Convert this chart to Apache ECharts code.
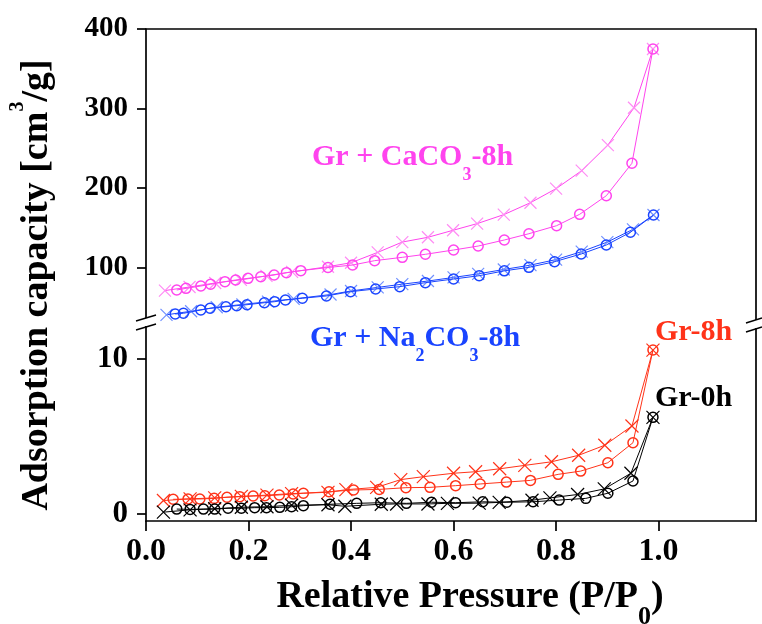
<!DOCTYPE html>
<html><head><meta charset="utf-8">
<script src="https://cdn.jsdelivr.net/npm/echarts@6/dist/echarts.min.js"></script>
<style>html,body{margin:0;padding:0;background:#fff}#c{width:762px;height:624px}</style>
</head><body><div id="c"></div>
<script>
// ---------------- data ----------------
const xTicks = [0, 0.2, 0.4, 0.6, 0.8, 1.0];
const upperTicks = [100, 200, 300, 400];
const lowerTicks = [0, 10];

// Gr + CaCO3-8h
const caAdsP = [0.060,0.078,0.107,0.126,0.154,0.175,0.199,0.224,0.250,0.274,0.302,0.355,0.403,0.446,0.500,0.545,0.600,0.648,0.699,0.747,0.801,0.846,0.898,0.948,0.989];
const caAdsV = [71.7,73.8,76.7,78.9,82.2,84.3,86.4,88.4,90.6,93.5,96.0,100.0,103.1,108.6,112.8,116.6,122.0,127.0,134.6,142.5,152.6,166.9,190.3,231.1,374.8];
const caDesP = [0.037,0.085,0.135,0.185,0.235,0.285,0.355,0.400,0.452,0.500,0.550,0.599,0.646,0.698,0.750,0.800,0.850,0.901,0.952,0.989];
const caDesV = [71.0,75.5,80.5,84.5,89.5,94.5,101.0,106.0,119.0,132.0,138.0,146.8,155.2,166.5,181.5,199.2,221.8,254.0,301.0,374.8];
// Gr + Na2CO3-8h
const naAdsP = [0.057,0.073,0.107,0.125,0.156,0.177,0.197,0.231,0.251,0.272,0.305,0.352,0.399,0.448,0.495,0.545,0.600,0.650,0.699,0.747,0.797,0.849,0.898,0.945,0.990];
const naAdsV = [41.5,42.4,46.5,48.7,50.7,52.0,53.2,55.7,57.0,59.1,61.3,64.2,69.6,73.0,75.9,80.9,85.5,89.7,95.8,100.2,107.3,117.0,128.3,144.3,166.0];
const naDesP = [0.040,0.088,0.138,0.188,0.238,0.288,0.360,0.400,0.452,0.500,0.550,0.600,0.648,0.698,0.750,0.800,0.850,0.900,0.950,0.990];
const naDesV = [40.5,45.0,50.0,53.5,57.0,60.5,66.0,70.5,75.0,79.0,83.0,87.5,92.0,97.5,103.0,110.0,120.0,132.0,148.0,166.0];
// Gr-8h
const g8AdsP = [0.053,0.082,0.105,0.133,0.158,0.183,0.209,0.232,0.260,0.287,0.307,0.357,0.405,0.455,0.507,0.554,0.604,0.652,0.703,0.750,0.804,0.848,0.901,0.950,0.989];
const g8AdsV = [0.93,0.95,0.95,0.99,1.06,1.10,1.14,1.16,1.21,1.27,1.32,1.42,1.53,1.57,1.68,1.70,1.81,1.92,2.04,2.15,2.54,2.75,3.29,4.58,10.56];
const g8DesP = [0.034,0.086,0.134,0.186,0.236,0.284,0.355,0.390,0.450,0.497,0.541,0.600,0.643,0.690,0.739,0.791,0.844,0.895,0.948,0.989];
const g8DesV = [0.85,0.96,1.02,1.12,1.20,1.30,1.38,1.55,1.70,2.20,2.39,2.61,2.71,2.90,3.12,3.35,3.77,4.42,5.66,10.56];
// Gr-0h
const g0AdsP = [0.060,0.086,0.112,0.134,0.160,0.186,0.212,0.235,0.261,0.284,0.307,0.359,0.411,0.458,0.508,0.557,0.604,0.657,0.704,0.755,0.806,0.858,0.901,0.950,0.989];
const g0AdsV = [0.30,0.28,0.30,0.30,0.35,0.35,0.39,0.39,0.41,0.45,0.52,0.61,0.67,0.71,0.67,0.74,0.71,0.77,0.74,0.77,0.88,0.99,1.32,2.11,6.22];
const g0DesP = [0.034,0.086,0.134,0.186,0.236,0.284,0.355,0.388,0.459,0.489,0.550,0.588,0.650,0.689,0.753,0.788,0.842,0.894,0.946,0.989];
const g0DesV = [0.10,0.25,0.32,0.42,0.45,0.55,0.58,0.48,0.61,0.63,0.63,0.67,0.68,0.73,0.87,1.02,1.24,1.60,2.61,6.22];

// ---------------- layout / style ----------------
const FONT = 'Liberation Serif';
const L = 146, R = 6, TOP = 29, BRK = 322, BOT = 103;
const XMAX = 1.19, UMIN = 31.45, UMAX = 400, LMIN = -0.47, LMAX = 12.37;
const AXC = '#000', AXW = 1.7;
const MAG = '#ff44ee', MAG2 = '#ff8cf4', BLU = '#1a44ff', BLU2 = '#7090ff', RED = '#ff3319', BLK = '#000';
const CROSS = 'path://M0,0L10,10M10,0L0,10';

function pts(P, V) { return P.map((p, i) => [p, V[i]]); }
function circ(P, V, c, xi, yi) {
  return { type: 'line', xAxisIndex: xi, yAxisIndex: yi, data: pts(P, V), symbol: 'circle', symbolSize: 10,
    itemStyle: { color: 'rgba(0,0,0,0)', borderColor: c, borderWidth: 1.5 },
    lineStyle: { color: c, width: 1 }, silent: true, z: 3 };
}
function cross(P, V, c, lc, sz, xi, yi) {
  return { type: 'line', xAxisIndex: xi, yAxisIndex: yi, data: pts(P, V), symbol: CROSS, symbolSize: sz,
    itemStyle: { color: 'none', borderColor: c, borderWidth: 1.2 },
    lineStyle: { color: lc, width: 1 }, silent: true, z: 2 };
}
const lbl = (fs) => ({ color: '#000', fontFamily: FONT, fontWeight: 'bold', fontSize: fs });

const chart = echarts.init(document.getElementById('c'));
const txtBold = (fs, c) => ({ fontFamily: FONT, fontWeight: 'bold', fontSize: fs, fill: c });

chart.setOption({
  animation: false,
  backgroundColor: '#fff',
  grid: [
    { left: L, right: R, top: TOP, height: BRK - TOP },
    { left: L, right: R, top: BRK, bottom: BOT }
  ],
  xAxis: [
    { gridIndex: 0, type: 'value', min: 0, max: XMAX, position: 'top',
      axisLine: { show: true, onZero: false, lineStyle: { color: AXC, width: AXW } },
      axisTick: { show: false }, axisLabel: { show: false }, splitLine: { show: false } },
    { gridIndex: 1, type: 'value', min: 0, max: XMAX, position: 'bottom',
      axisLine: { show: true, onZero: false, lineStyle: { color: AXC, width: AXW } },
      axisTick: { show: true, length: 10, customValues: xTicks, lineStyle: { color: AXC, width: AXW } },
      axisLabel: Object.assign(lbl(32), { customValues: xTicks, margin: 15, formatter: v => v.toFixed(1) }),
      splitLine: { show: false } }
  ],
  yAxis: [
    { gridIndex: 0, type: 'value', min: UMIN, max: UMAX, position: 'left',
      axisLine: { show: true, onZero: false, lineStyle: { color: AXC, width: AXW } },
      axisTick: { show: true, length: 9, customValues: upperTicks, lineStyle: { color: AXC, width: AXW } },
      axisLabel: Object.assign(lbl(29), { customValues: upperTicks, margin: 18 }),
      splitLine: { show: false } },
    { gridIndex: 0, type: 'value', min: UMIN, max: UMAX, position: 'right',
      axisLine: { show: true, onZero: false, lineStyle: { color: AXC, width: AXW } },
      axisTick: { show: false }, axisLabel: { show: false }, splitLine: { show: false } },
    { gridIndex: 1, type: 'value', min: LMIN, max: LMAX, position: 'left',
      axisLine: { show: true, onZero: false, lineStyle: { color: AXC, width: AXW } },
      axisTick: { show: true, length: 9, customValues: lowerTicks, lineStyle: { color: AXC, width: AXW } },
      axisLabel: Object.assign(lbl(31), { customValues: lowerTicks, margin: 18 }),
      splitLine: { show: false } },
    { gridIndex: 1, type: 'value', min: LMIN, max: LMAX, position: 'right',
      axisLine: { show: true, onZero: false, lineStyle: { color: AXC, width: AXW } },
      axisTick: { show: false }, axisLabel: { show: false }, splitLine: { show: false } }
  ],
  series: [
    cross(caDesP, caDesV, MAG2, MAG, 12, 0, 0),
    circ(caAdsP, caAdsV, MAG, 0, 0),
    cross(naDesP, naDesV, BLU2, BLU, 12, 0, 0),
    circ(naAdsP, naAdsV, BLU, 0, 0),
    cross(g8DesP, g8DesV, RED, RED, 13, 1, 2),
    circ(g8AdsP, g8AdsV, RED, 1, 2),
    cross(g0DesP, g0DesV, BLK, BLK, 13, 1, 2),
    circ(g0AdsP, g0AdsV, BLK, 1, 2)
  ],
  graphic: [
    // axis breaks
    { type: 'rect', z: 100, shape: { x: L - 4, y: BRK - 4, width: 8, height: 8 }, style: { fill: '#fff' } },
    { type: 'line', z: 101, shape: { x1: L - 10, y1: BRK - 1, x2: L + 10, y2: BRK - 7 }, style: { stroke: '#000', lineWidth: 1.5 } },
    { type: 'line', z: 101, shape: { x1: L - 10, y1: BRK + 8, x2: L + 10, y2: BRK + 2 }, style: { stroke: '#000', lineWidth: 1.5 } },
    { type: 'rect', z: 100, shape: { x: 762 - R - 4, y: BRK - 2, width: 8, height: 8 }, style: { fill: '#fff' } },
    { type: 'line', z: 101, shape: { x1: 762 - R - 10, y1: BRK + 1, x2: 762 - R + 6, y2: BRK - 4 }, style: { stroke: '#000', lineWidth: 1.5 } },
    { type: 'line', z: 101, shape: { x1: 762 - R - 10, y1: BRK + 10, x2: 762 - R + 6, y2: BRK + 5 }, style: { stroke: '#000', lineWidth: 1.5 } },
    // annotations
    { type: 'text', z: 110, x: 312, y: 157, style: { text: '{a|Gr + CaCO}{s|3}{a|-8h}', align: 'left', verticalAlign: 'middle',
      rich: { a: Object.assign(txtBold(30, MAG), { lineHeight: 30 }), s: Object.assign(txtBold(18, MAG), { lineHeight: 54, verticalAlign: 'bottom' }) } } },
    { type: 'text', z: 110, x: 310, y: 338, style: { text: '{a|Gr + Na}{s|2}{a|CO}{s|3}{a|-8h}', align: 'left', verticalAlign: 'middle',
      rich: { a: Object.assign(txtBold(30, BLU), { lineHeight: 30 }), s: Object.assign(txtBold(18, BLU), { lineHeight: 54, verticalAlign: 'bottom' }) } } },
    { type: 'text', z: 110, x: 655, y: 332, style: Object.assign(txtBold(30, RED), { text: 'Gr-8h', align: 'left', verticalAlign: 'middle' }) },
    { type: 'text', z: 110, x: 655, y: 398, style: Object.assign(txtBold(30, BLK), { text: 'Gr-0h', align: 'left', verticalAlign: 'middle' }) },
    // axis titles
    { type: 'text', z: 110, x: 470, y: 597, style: { text: '{a|Relative Pressure (P/P}{s|0}{a|)}', align: 'center', verticalAlign: 'middle',
      rich: { a: Object.assign(txtBold(38, '#000'), { lineHeight: 38 }), s: Object.assign(txtBold(26, '#000'), { lineHeight: 66, verticalAlign: 'bottom' }) } } },
    { type: 'text', z: 110, x: 37, y: 285, rotation: Math.PI / 2, style: { text: '{a|Adsorption capacity [cm}{p|3}{a|/g]}', align: 'center', verticalAlign: 'middle',
      rich: { a: Object.assign(txtBold(38, '#000'), { lineHeight: 38 }), p: Object.assign(txtBold(20, '#000'), { lineHeight: 58, verticalAlign: 'top' }) } } }
  ]
});
</script>
</body></html>
